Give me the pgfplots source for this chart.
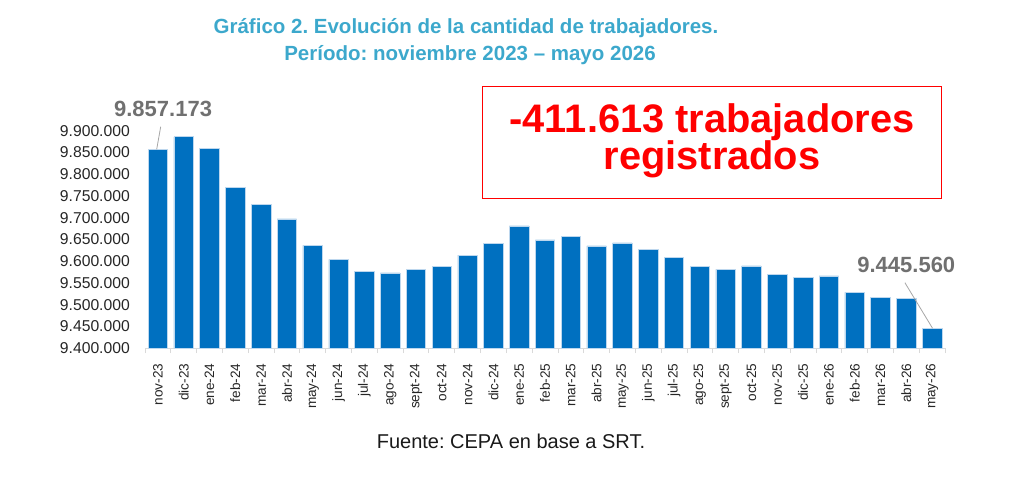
\documentclass[border=0pt]{standalone}
\usepackage{pgfplots}
\pgfplotsset{compat=1.18}
\usepackage{fontspec}
\setmainfont{Liberation Sans}
\frenchspacing
\definecolor{barblue}{RGB}{0,112,192}
\definecolor{baredge}{RGB}{189,215,238}
\definecolor{titleblue}{RGB}{60,168,204}
\definecolor{lblgray}{RGB}{112,112,112}
\definecolor{axgray}{RGB}{217,217,217}
\definecolor{leader}{RGB}{166,166,166}
\begin{document}
\begin{tikzpicture}[x=1pt,y=1pt]
\path[use as bounding box] (0,0) rectangle (1024,481);
\begin{axis}[
  at={(145pt,132.9pt)}, anchor=south west,
  scale only axis, width=800pt, height=217.4pt,
  xmin=-0.5, xmax=30.5, ymin=9400000, ymax=9900000,
  axis x line*=bottom, axis y line*=left,
  x axis line style={draw=axgray, line width=1pt, -},
  y axis line style={draw=none},
  ytick={9400000,9450000,...,9900000},
  scaled y ticks=false,
  yticklabel style={/pgf/number format/.cd, fixed, precision=0, 1000 sep={.}, assume math mode=true,
     /tikz/.cd, font=\fontsize{15.7}{18}\selectfont, text=black!85, inner sep=0pt, xshift=-15pt},
  ytick style={draw=none},
  xtick={0,...,30},
  xticklabels={nov-23,dic-23,ene-24,feb-24,mar-24,abr-24,may-24,jun-24,jul-24,ago-24,sept-24,oct-24,nov-24,dic-24,ene-25,feb-25,mar-25,abr-25,may-25,jun-25,jul-25,ago-25,sept-25,oct-25,nov-25,dic-25,ene-26,feb-26,mar-26,abr-26,may-26},
  xticklabel style={rotate=90, anchor=east, inner sep=0pt, font=\fontsize{13.6}{16}\selectfont, text=black!85},
  xticklabel shift=11pt,
  major x tick style={draw=none},
  minor xtick={-0.5,0.5,...,30.5},
  minor x tick style={draw=axgray, line width=0.8pt},
  minor tick length=5pt,
  xtick align=outside,
  clip=false,
]
\addplot[ybar, bar width=19.5pt, fill=barblue, draw=baredge, line width=0.6pt] coordinates {
(0,9857173) (1,9886000) (2,9860000) (3,9770000) (4,9731000) (5,9697000)
(6,9636000) (7,9604000) (8,9577000) (9,9573000) (10,9581000) (11,9588000)
(12,9614000) (13,9641000) (14,9681000) (15,9649000) (16,9656000) (17,9635000)
(18,9642000) (19,9627000) (20,9609000) (21,9587000) (22,9581000) (23,9589000)
(24,9570000) (25,9563000) (26,9566000) (27,9528000) (28,9517000) (29,9515000)
(30,9445560)};
\draw[leader, line width=0.8pt] (axis cs:-0.047,9857100) -- (axis cs:0.108,9909100);
\draw[leader, line width=0.8pt] (axis cs:28.946,9550400) -- (axis cs:30.017,9445560);
\node[anchor=base, text=lblgray, font=\fontsize{22}{26}\selectfont\bfseries, inner sep=0pt] at (axis cs:0.2,9933700) {9.857.173};
\node[anchor=base, text=lblgray, font=\fontsize{22}{26}\selectfont\bfseries, inner sep=0pt] at (axis cs:29.0,9573400) {9.445.560};
\end{axis}
% title
\node[anchor=base, text=titleblue, font=\fontsize{20.5}{24}\selectfont\bfseries, inner sep=0pt] at (466,447) {Gráfico 2. Evolución de la cantidad de trabajadores.};
\node[anchor=base, text=titleblue, font=\fontsize{20.5}{24}\selectfont\bfseries, inner sep=0pt] at (470,420) {Período: noviembre 2023 – mayo 2026};
% box
\draw[red, line width=1.3pt] (482.7,282.7) rectangle (941.7,394.3);
\node[anchor=base, text=red, font=\fontsize{39.8}{44}\selectfont\bfseries, inner sep=0pt] at (712,348.7) {-411.613 trabajadores};
\node[anchor=base, text=red, font=\fontsize{39.8}{44}\selectfont\bfseries, inner sep=0pt] at (712,311.7) {registrados};
% footer
\node[anchor=base, text=black!90, font=\fontsize{20}{24}\selectfont, inner sep=0pt] at (511,32.7) {Fuente: CEPA en base a SRT.};
\end{tikzpicture}
\end{document}
